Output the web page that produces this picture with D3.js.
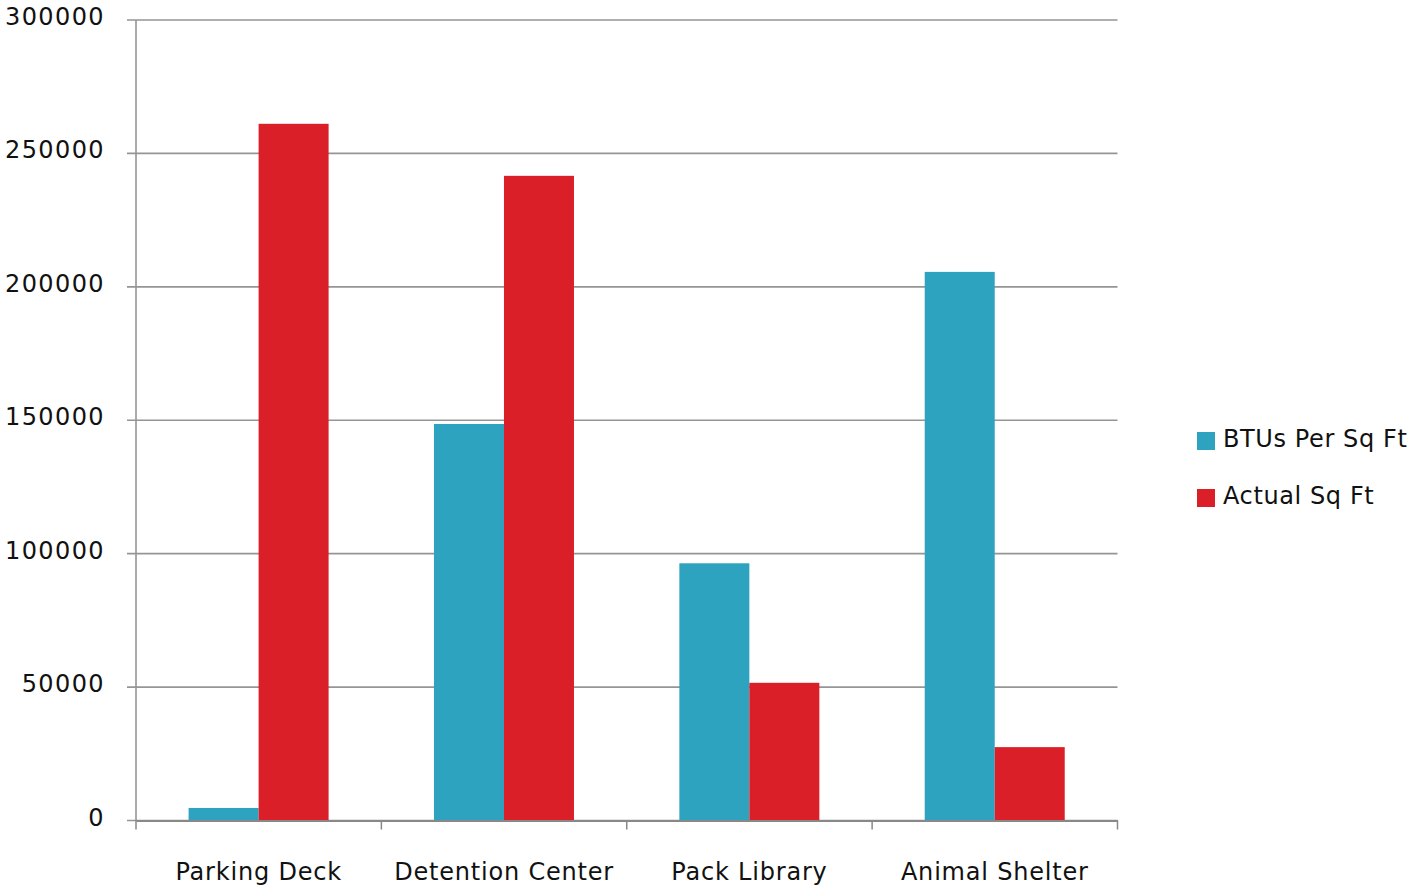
<!DOCTYPE html>
<meta charset="utf-8">
<head>
<script src="https://d3js.org/d3.v7.min.js"></script>
<style>
  body { margin: 0; background: #fff; }
  text { font-family: "DejaVu Sans", sans-serif; fill: #111; }
</style>
</head>
<body>
<svg id="chart" width="1412" height="888"></svg>
<script>
// data
var categories = ["Parking Deck", "Detention Center", "Pack Library", "Animal Shelter"];
var seriesNames = ["BTUs Per Sq Ft", "Actual Sq Ft"];
var btus = [4700, 148600, 96400, 205600];
var actual = [261100, 241600, 51600, 27500];
var yTicks = [0, 50000, 100000, 150000, 200000, 250000, 300000];
var colors = ["#2ea3c0", "#db1f29"];

var margin = {top: 20, left: 136},
    width = 981.5, height = 800.5;

var svg = d3.select("#chart");
var g = svg.append("g").attr("transform", "translate(" + margin.left + "," + margin.top + ")");

var x = d3.scaleBand().domain(categories).range([0, width]);
var x1 = d3.scaleBand().domain(seriesNames).range([52.6, 192.6]);
var y = d3.scaleLinear().domain([0, 300000]).range([height, 0]);

// gridlines + y labels
g.selectAll(".grid").data(yTicks).enter().append("line")
  .attr("x1", -9).attr("x2", width)
  .attr("y1", function(d) { return y(d); }).attr("y2", function(d) { return y(d); })
  .attr("stroke", "#959595").attr("stroke-width", 1.6);

g.selectAll(".ylab").data(yTicks).enter().append("text")
  .attr("x", -31).attr("y", function(d) { return y(d) + 5; })
  .attr("text-anchor", "end")
  .style("font-size", "24px").style("letter-spacing", "1.4px")
  .text(function(d) { return d; });

// bars
var rows = categories.map(function(c, i) { return {cat: c, vals: [btus[i], actual[i]]}; });
var grp = g.selectAll(".grp").data(rows).enter().append("g")
  .attr("transform", function(d) { return "translate(" + x(d.cat) + ",0)"; });
grp.selectAll("rect").data(function(d) { return d.vals.map(function(v, j) { return {s: seriesNames[j], v: v, j: j}; }); })
  .enter().append("rect")
  .attr("x", function(d) { return x1(d.s); })
  .attr("width", x1.bandwidth())
  .attr("y", function(d) { return y(d.v); })
  .attr("height", function(d) { return height - y(d.v); })
  .attr("fill", function(d) { return colors[d.j]; });

// y axis line
g.append("line").attr("x1", 0).attr("x2", 0).attr("y1", 0).attr("y2", height)
  .attr("stroke", "#959595").attr("stroke-width", 1.6);

// x axis
var xAxis = d3.axisBottom(x).tickSize(0).tickFormat(function(d) { return d; });
var ax = g.append("g").attr("transform", "translate(0," + height + ")").call(xAxis);
ax.select(".domain").attr("stroke", "#888").attr("stroke-width", 2);
ax.selectAll(".tick text").attr("y", 0).attr("dy", 59)
  .style("font-size", "24px").style("letter-spacing", "0.8px")
  .style("font-family", "DejaVu Sans, sans-serif").attr("fill", "#111");

var bounds = categories.map(function(c) { return x(c); }).concat([width]);
g.selectAll(".xtick").data(bounds).enter().append("line")
  .attr("x1", function(d) { return d; }).attr("x2", function(d) { return d; })
  .attr("y1", height).attr("y2", height + 9)
  .attr("stroke", "#888").attr("stroke-width", 1.5);

// legend
var leg = svg.append("g").attr("transform", "translate(1197,432)");
var li = leg.selectAll("g").data(seriesNames).enter().append("g")
  .attr("transform", function(d, i) { return "translate(0," + (i * 57) + ")"; });
li.append("rect").attr("width", 18).attr("height", 18)
  .attr("fill", function(d, i) { return colors[i]; });
li.append("text").attr("x", 26).attr("y", 15)
  .style("font-size", "24px").style("letter-spacing", "0.6px")
  .text(function(d) { return d; });
</script>
</body>
